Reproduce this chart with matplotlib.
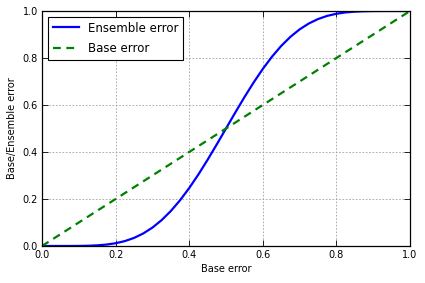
import matplotlib

matplotlib.use("Agg")
import matplotlib.pyplot as plt  # noqa: E402

# values
base_error = [0.0, 0.05, 0.075, 0.1, 0.125, 0.15, 0.175, 0.2, 0.225, 0.25,
              0.275, 0.3, 0.325, 0.35, 0.375, 0.4, 0.425, 0.45, 0.475, 0.5,
              0.525, 0.55, 0.575, 0.6, 0.625, 0.65, 0.675, 0.7, 0.725, 0.75,
              0.775, 0.8, 0.825, 0.85, 0.875, 0.9, 0.925, 0.95, 1.0]
ensemble_error = [0.0, 0.00001, 0.00003, 0.0003, 0.0010, 0.0027, 0.0060,
                  0.0117, 0.0208, 0.0343, 0.0532, 0.0782, 0.1100, 0.1487,
                  0.1944, 0.2465, 0.3044, 0.3669, 0.4326, 0.5, 0.5674,
                  0.6331, 0.6956, 0.7535, 0.8056, 0.8513, 0.8900, 0.9218,
                  0.9468, 0.9657, 0.9792, 0.9883, 0.9940, 0.9973, 0.9990,
                  0.9997, 0.99997, 1.0, 1.0]
base_x = [0.0, 1.0]
base_line = [0.0, 1.0]
ticks = [0.0, 0.2, 0.4, 0.6, 0.8, 1.0]

plt.rcParams["font.family"] = "DejaVu Sans"
fig = plt.figure(figsize=(4.25, 2.83), dpi=100)
ax = fig.add_axes([42 / 425, 1 - 246 / 283, 368 / 425, 235 / 283])

ax.plot(base_error, ensemble_error, color="#0000ff", lw=1.6,
        label="Ensemble error")
ax.plot(base_x, base_line, color="#008000", ls=(0, (3.5, 2.5)), lw=1.6,
        label="Base error")

ax.set_xlim(0, 1)
ax.set_ylim(0, 1)
ax.set_xticks(ticks)
ax.set_yticks(ticks)
ax.set_xticklabels([f"{t:.1f}" for t in ticks])
ax.set_yticklabels([f"{t:.1f}" for t in ticks])
ax.tick_params(direction="in", top=True, right=True, labelsize=7,
               length=4, width=0.6, pad=3)
ax.grid(True, color="#a0a0a0", ls=(0, (2, 2)), lw=0.6)
for s in ax.spines.values():
    s.set_linewidth(0.9)
ax.set_xlabel("Base error", fontsize=7, labelpad=3)
ax.set_ylabel("Base/Ensemble error", fontsize=7, labelpad=4)

leg = ax.legend(loc="upper left", fontsize=8.5, fancybox=False,
                framealpha=1, borderaxespad=0.5, handlelength=2.2,
                labelspacing=0.65, edgecolor="black")
leg.get_frame().set_linewidth(0.8)

fig.savefig("out.png", dpi=100, facecolor="white")
